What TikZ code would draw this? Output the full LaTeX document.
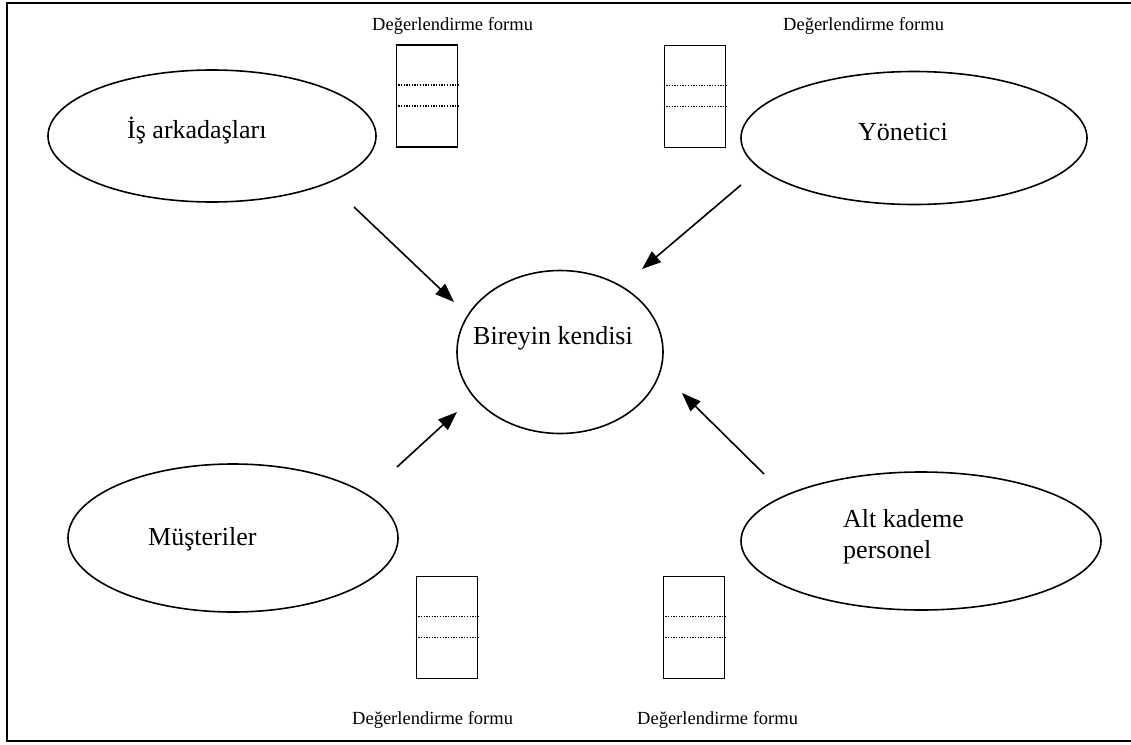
\documentclass[tikz,border=0pt]{standalone}
\usepackage{fontspec}
\setmainfont{Liberation Serif}
\usetikzlibrary{shapes.geometric,arrows.meta}

\tikzset{
  oval/.style={draw, ellipse, line width=1.6pt, inner sep=0pt},
  bigtext/.style={inner sep=0pt, anchor=base west, font=\fontsize{26}{31}\selectfont, align=left},
  smalltext/.style={inner sep=0pt, anchor=base west, font=\fontsize{18.5}{22}\selectfont},
  formbox/.style={draw, rectangle, line width=1.9pt, inner sep=0pt, minimum width=61pt, minimum height=102pt},
  formline/.style={line width=1.3pt, dash pattern=on 1.3pt off 1.4pt},
  feed/.style={line width=1.6pt, -{Triangle[length=19pt,width=14pt]}},
  frame/.style={line width=2pt, line cap=rect}
}

\newcommand{\formlines}[1]{%
  \draw[formline] ([yshift=-41pt]#1.north west) -- ([yshift=-41pt]#1.north east);
  \draw[formline] ([yshift=-62pt]#1.north west) -- ([yshift=-62pt]#1.north east);
}

\begin{document}
\begin{tikzpicture}[x=1pt, y=-1pt]
  \useasboundingbox (0,0) rectangle (1131,744);
  \fill[white] (0,0) rectangle (1131,744);

  % outer frame (right side runs off the page)
  \coordinate (fnw) at (6.5,3);
  \coordinate (fne) at (1140,3);
  \coordinate (fsw) at (6.5,741);
  \coordinate (fse) at (1140,741);
  \draw[frame] (fne) -- (fnw) -- (fsw) -- (fse);

  % rating sources
  \node[oval, minimum width=328pt, minimum height=132pt] (peers) at (212,136) {};
  \node[oval, minimum width=346pt, minimum height=133pt] (manager) at (914,138) {};
  \node[oval, minimum width=206pt, minimum height=163pt] (self) at (560,352) {};
  \node[oval, minimum width=330pt, minimum height=148pt] (customers) at (233,538) {};
  \node[oval, minimum width=360pt, minimum height=138pt] (subordinates) at (921,541) {};

  \node[bigtext] (tpeers) at (127,138) {İş arkadaşları};
  \node[bigtext] (tmanager) at (858,140) {Yönetici};
  \node[bigtext] (tself) at (473,344) {Bireyin kendisi};
  \node[bigtext] (tcustomers) at (148,545) {Müşteriler};
  \node[bigtext] (tsubordinates) at (843,558) {Alt kademe\\personel};

  % evaluation forms
  \node[formbox] (form1) at (427,96) {};
  \node[formbox] (form2) at (695,96.5) {};
  \node[formbox] (form3) at (447,627.5) {};
  \node[formbox] (form4) at (694,627.5) {};
  \formlines{form1}
  \formlines{form2}
  \formlines{form3}
  \formlines{form4}

  \node[smalltext] (lform1) at (372,30) {Değerlendirme formu};
  \node[smalltext] (lform2) at (783,30) {Değerlendirme formu};
  \node[smalltext] (lform3) at (352,724) {Değerlendirme formu};
  \node[smalltext] (lform4) at (637,724) {Değerlendirme formu};

  % feedback arrows towards the individual
  \coordinate (a1s) at (354,207);
  \coordinate (a1e) at (454,302);
  \coordinate (a2s) at (741,185);
  \coordinate (a2e) at (642,269);
  \coordinate (a3s) at (397,467);
  \coordinate (a3e) at (457,412);
  \coordinate (a4s) at (764,474);
  \coordinate (a4e) at (682,393);
  \draw[feed] (a1s) -- (a1e);
  \draw[feed] (a2s) -- (a2e);
  \draw[feed] (a3s) -- (a3e);
  \draw[feed] (a4s) -- (a4e);
\end{tikzpicture}
\end{document}
